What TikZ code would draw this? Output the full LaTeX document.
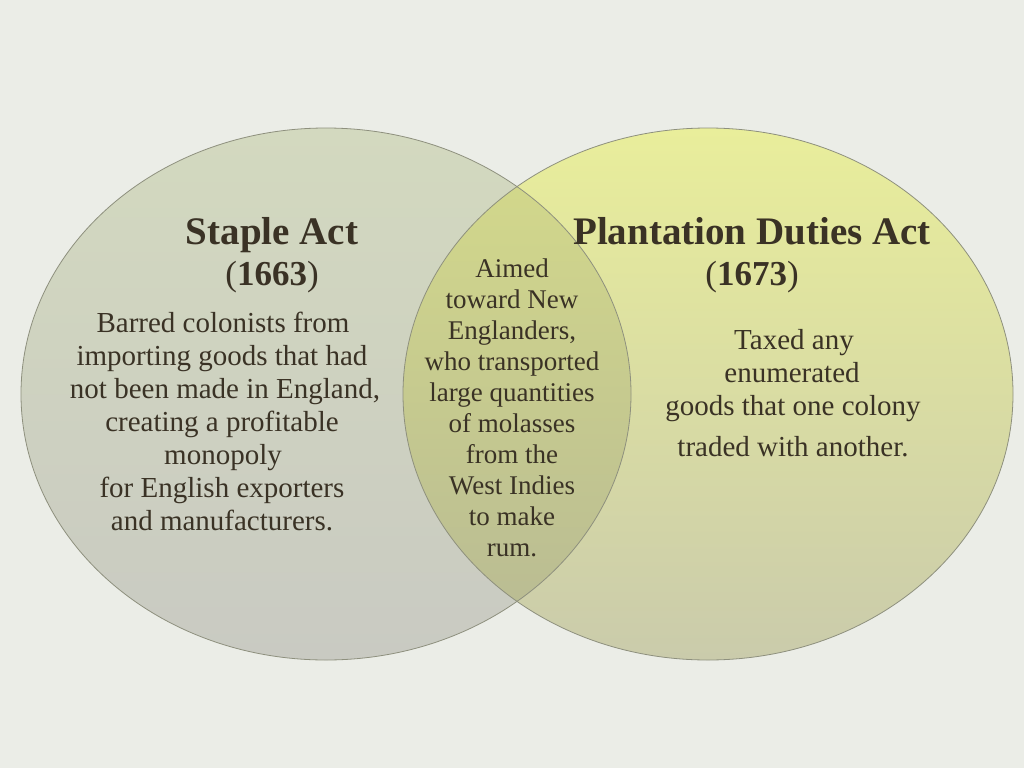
\documentclass[tikz,border=0pt]{standalone}
\usepackage{fontspec}
\setmainfont{Liberation Serif}
\definecolor{bg}{HTML}{EBEDE7}
\definecolor{ink}{HTML}{3A3225}
\definecolor{lt}{HTML}{D3D9BF}
\definecolor{lb}{HTML}{C9CAC2}
\definecolor{rt}{HTML}{E9EE9B}
\definecolor{rb}{HTML}{CACBAB}
\definecolor{ot}{HTML}{D5DB8A}
\definecolor{ob}{HTML}{B7B994}
\definecolor{edgec}{HTML}{8E907E}
\begin{document}
\begin{tikzpicture}[x=1pt,y=-1pt,
  txt/.style={text=ink, font=\fontsize{29}{33}\selectfont, inner sep=0pt, anchor=base},
  mid/.style={text=ink, font=\fontsize{27}{31}\selectfont, inner sep=0pt, anchor=base},
  ttl/.style={text=ink, font=\fontsize{39}{40}\selectfont\bfseries, inner sep=0pt, anchor=base},
  yr/.style={text=ink, font=\fontsize{35}{40}\selectfont\bfseries, inner sep=0pt, anchor=base},
  edge/.style={draw=edgec, line width=0.8pt}]
\fill[bg] (0,0) rectangle (1024,768);
\useasboundingbox (0,0) rectangle (1024,768);
% circles
\shade[top color=lt, bottom color=lb] (326,394) ellipse [x radius=305, y radius=266];
\shade[top color=rt, bottom color=rb] (708,394) ellipse [x radius=305, y radius=266];
\begin{scope}
  \clip (326,394) ellipse [x radius=305, y radius=266];
  \shade[top color=ot, bottom color=ob] (708,394) ellipse [x radius=305, y radius=266];
\end{scope}
\draw[edge] (326,394) ellipse [x radius=305, y radius=266];
\draw[edge] (708,394) ellipse [x radius=305, y radius=266];
% titles
\node[ttl] (t1) at (272,244) {Staple Act};
\node[yr] (t1y) at (272,285) {{\mdseries(}1663{\mdseries)}};
\node[ttl] (t2) at (752,244) {Plantation Duties Act};
\node[yr] (t2y) at (752,285) {{\mdseries(}1673{\mdseries)}};
% left text
\node[txt] (l1) at (223,332) {Barred colonists from};
\node[txt] (l2) at (222,365) {importing goods that had};
\node[txt] (l3) at (225,398) {not been made in England,};
\node[txt] (l4) at (222,431) {creating a profitable};
\node[txt] (l5) at (223,464) {monopoly};
\node[txt] (l6) at (222,497) {for English exporters};
\node[txt] (l7) at (222,530) {and manufacturers.};
% middle text
\node[mid] (m1) at (512,277) {Aimed};
\node[mid] (m2) at (512,308) {toward New};
\node[mid] (m3) at (512,339) {Englanders,};
\node[mid] (m4) at (512,370) {who transported};
\node[mid] (m5) at (512,401) {large quantities};
\node[mid] (m6) at (512,432) {of molasses};
\node[mid] (m7) at (512,463) {from the};
\node[mid] (m8) at (512,494) {West Indies};
\node[mid] (m9) at (512,525) {to make};
\node[mid] (m10) at (512,556) {rum.};
% right text
\node[txt] (r1) at (794,349) {Taxed any};
\node[txt] (r2) at (792,382) {enumerated};
\node[txt] (r3) at (793,415) {goods that one colony};
\node[txt] (r4) at (793,456) {traded with another.};
\end{tikzpicture}
\end{document}
